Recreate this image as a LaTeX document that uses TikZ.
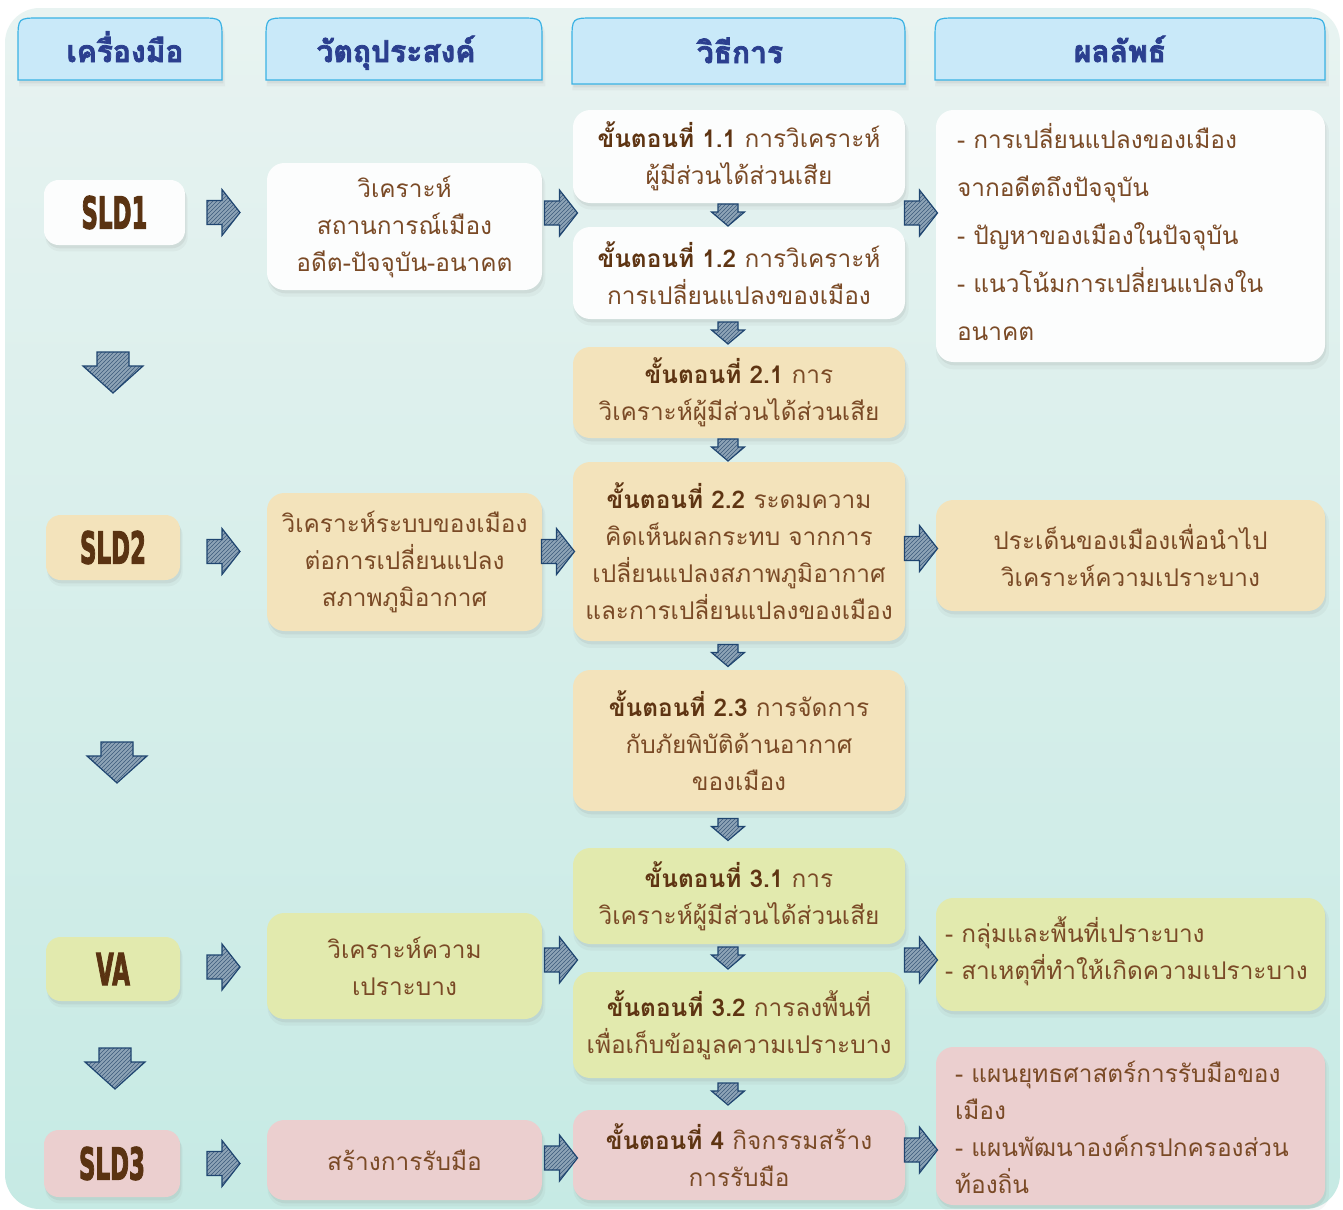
\documentclass[tikz,border=0pt]{standalone}
\usepackage{fontspec}
\usepackage{graphicx}
\setmainfont{Loma}[Script=Thai]
\newfontfamily\hdrfont{Loma}[Script=Thai, BoldFeatures={FakeBold=2.5}]
\newfontfamily\sldfont{DejaVu Sans}[BoldFeatures={FakeBold=3}]
\usetikzlibrary{shadows,patterns,calc}
\definecolor{txt}{HTML}{7A4A26}
\definecolor{txtb}{HTML}{5E3412}
\definecolor{sldc}{HTML}{5A3312}
\definecolor{hdrfill}{HTML}{C9E9F9}
\definecolor{hdrline}{HTML}{3AB2E4}
\definecolor{hdrtxt}{HTML}{2B3F8F}
\definecolor{cwhite}{HTML}{FCFDFD}
\definecolor{ccream}{HTML}{F3E3BB}
\definecolor{cgreen}{HTML}{E2EAAE}
\definecolor{cpink}{HTML}{EBCFCF}
\definecolor{bgtop}{HTML}{E8F3F1}
\definecolor{bgbot}{HTML}{C6EAE4}
\definecolor{arrfill}{HTML}{8DA3B6}
\definecolor{arrhatch}{HTML}{3C5B7C}
\definecolor{arrline}{HTML}{1F4570}
\newcommand\stp[1]{{\bfseries\color{txtb}ขั้นตอนที่ #1}}
\newcommand\sld[1]{\scalebox{0.52}[1]{\sldfont\bfseries #1}}
% block arrows drawn around a named coordinate
\newcommand\rightblock[1]{\path[arrst, shift={(#1)}] (-16,-12) -- (-1,-12) -- (-1,-23) -- (17,0) -- (-1,23) -- (-1,12) -- (-16,12) -- cycle;}
\newcommand\bigdown[1]{\path[arrst, shift={(#1)}] (-16,-20) -- (16,-20) -- (16,-6) -- (30,-6) -- (0,21) -- (-30,-6) -- (-16,-6) -- cycle;}
\newcommand\smalldown[1]{\path[arrst, shift={(#1)}] (-10,-11) -- (10,-11) -- (10,-3) -- (16.5,-3) -- (0,11) -- (-16.5,-3) -- (-10,-3) -- cycle;}
\begin{document}
\begin{tikzpicture}[x=0.75pt,y=-0.75pt,
  px/.style 2 args={minimum width=#1*0.75pt, minimum height=#2*0.75pt},
  softshadow/.style={drop shadow={opacity=0.07, shadow xshift=1.5pt, shadow yshift=-4.5pt, shadow scale=1.01},
    drop shadow={opacity=0.12, shadow xshift=1pt, shadow yshift=-2.5pt}},
  box/.style={rounded corners=13pt, draw=none, inner sep=0pt, align=center,
    font=\fontsize{18.3}{27.75}\selectfont, text=txt, softshadow},
  ltext/.style={inner sep=0pt, anchor=west, align=left, text=txt, font=\fontsize{18.3}{27.75}\selectfont},
  toolbox/.style={box, rounded corners=11pt, font=\fontsize{33}{36}\selectfont, text=sldc},
  hdrbox/.style={fill=hdrfill, draw=hdrline, line width=0.9pt, softshadow},
  hdr/.style={inner sep=0pt, anchor=base, font=\fontsize{22.5}{24}\hdrfont\bfseries, text=hdrtxt},
  arrst/.style={draw=arrline, line width=0.9pt, line join=miter, preaction={fill=arrfill},
    pattern=north east lines, pattern color=arrhatch}
]
\useasboundingbox (0,0) rectangle (1343,1210);
\fill[white] (0,0) rectangle (1343,1210);
\shade[top color=bgtop, bottom color=bgbot, rounded corners=26pt] (5,8) rectangle (1340,1209);

% headers
\path[hdrbox] (18,80) -- (18,40) .. controls (18,18) .. (40,18) -- (200,18) .. controls (222,18) .. (222,40) -- (222,80) -- cycle;
\path[hdrbox] (266,80) -- (266,40) .. controls (266,18) .. (288,18) -- (520,18) .. controls (542,18) .. (542,40) -- (542,80) -- cycle;
\path[hdrbox] (572,84) -- (572,40) .. controls (572,18) .. (594,18) -- (883,18) .. controls (905,18) .. (905,40) -- (905,84) -- cycle;
\path[hdrbox] (935,80) -- (935,40) .. controls (935,18) .. (957,18) -- (1303,18) .. controls (1325,18) .. (1325,40) -- (1325,80) -- cycle;
\node[hdr] (h1) at (125,62) {เครื่องมือ};
\node[hdr] (h2) at (396,62) {วัตถุประสงค์};
\node[hdr] (h3) at (740,63) {วิธีการ};
\node[hdr] (h4) at (1120,62) {ผลลัพธ์};

% tools
\node[toolbox, fill=cwhite, px={141}{65}] (sld1) at (114.5,212.5) {\sld{SLD1}};
\node[toolbox, fill=ccream, px={134}{65}] (sld2) at (113,547.5) {\sld{SLD2}};
\node[toolbox, fill=cgreen, px={134}{64}] (va) at (113,969) {\sld{VA}};
\node[toolbox, fill=cpink, px={136}{67}] (sld3) at (112,1163.5) {\sld{SLD3}};

% objectives
\node[box, fill=cwhite, px={275}{127}] (obj1) at (404.5,226.5) {วิเคราะห์\\สถานการณ์เมือง\\อดีต-ปัจจุบัน-อนาคต};
\node[box, fill=ccream, px={275}{138}] (obj2) at (404.5,562) {วิเคราะห์ระบบของเมือง\\ต่อการเปลี่ยนแปลง\\สภาพภูมิอากาศ};
\node[box, fill=cgreen, px={275}{106}] (obj3) at (404.5,966) {วิเคราะห์ความ\\เปราะบาง};
\node[box, fill=cpink, px={275}{80}] (obj4) at (404.5,1160) {สร้างการรับมือ};

% methods
\node[box, fill=cwhite, px={332}{93}] (m11) at (739,156.5) {\stp{1.1} การวิเคราะห์\\ผู้มีส่วนได้ส่วนเสีย};
\node[box, fill=cwhite, px={332}{92}] (m12) at (739,273) {\stp{1.2} การวิเคราะห์\\การเปลี่ยนแปลงของเมือง};
\node[box, fill=ccream, px={332}{91}] (m21) at (739,392.5) {\stp{2.1} การ\\วิเคราะห์ผู้มีส่วนได้ส่วนเสีย};
\node[box, fill=ccream, px={332}{179}] (m22) at (739,551.5) {\stp{2.2} ระดมความ\\คิดเห็นผลกระทบ จากการ\\เปลี่ยนแปลงสภาพภูมิอากาศ\\และการเปลี่ยนแปลงของเมือง};
\node[box, fill=ccream, px={332}{141}] (m23) at (739,740.5) {\stp{2.3} การจัดการ\\กับภัยพิบัติด้านอากาศ\\ของเมือง};
\node[box, fill=cgreen, px={332}{96}] (m31) at (739,896) {\stp{3.1} การ\\วิเคราะห์ผู้มีส่วนได้ส่วนเสีย};
\node[box, fill=cgreen, px={332}{106}] (m32) at (739,1025) {\stp{3.2} การลงพื้นที่\\เพื่อเก็บข้อมูลความเปราะบาง};
\node[box, fill=cpink, px={332}{90}] (m4) at (739,1155) {\stp{4} กิจกรรมสร้าง\\การรับมือ};

% results
\node[box, fill=cwhite, px={389}{252}] (r1) at (1130.5,236) {};
\node[ltext, font=\fontsize{18.3}{36}\selectfont] (r1t) at ($(r1.west)+(21,-4)$)
  {- การเปลี่ยนแปลงของเมือง\\จากอดีตถึงปัจจุบัน\\- ปัญหาของเมืองในปัจจุบัน\\- แนวโน้มการเปลี่ยนแปลงใน\\อนาคต};
\node[box, fill=ccream, px={389}{111}] (r2) at (1130.5,555.5) {ประเด็นของเมืองเพื่อนำไป\\วิเคราะห์ความเปราะบาง};
\node[box, fill=cgreen, px={389}{113}] (r3) at (1130.5,954.5) {};
\node[ltext] (r3t) at ($(r3.west)+(9,-3)$) {- กลุ่มและพื้นที่เปราะบาง\\- สาเหตุที่ทำให้เกิดความเปราะบาง};
\node[box, fill=cpink, px={389}{158}] (r4) at (1130.5,1126) {};
\node[ltext] (r4t) at ($(r4.west)+(19,1)$) {- แผนยุทธศาสตร์การรับมือของ\\เมือง\\- แผนพัฒนาองค์กรปกครองส่วน\\ท้องถิ่น};

% junction coordinates
\coordinate (j1) at ($(m11.south)!0.5!(m12.north)$);
\coordinate (j2) at ($(m12.south)!0.5!(m21.north)$);
\coordinate (j3) at ($(m21.south)!0.5!(m22.north)$);
\coordinate (j4) at ($(m22.south)!0.5!(m23.north)$);
\coordinate (j5) at ($(m23.south)!0.5!(m31.north)$);
\coordinate (j6) at ($(m31.south)!0.5!(m32.north)$);
\coordinate (j7) at ($(m32.south)!0.5!(m4.north)$);
\coordinate (c12) at ($(sld1.east)!0.5!(obj1.west)$);
\coordinate (c23) at ($(obj1.east)!0.5!(m11.west)$);
\coordinate (c34) at ($(m11.east)!0.5!(r1.west)$);

% col1 -> col2 arrows
\coordinate (a11) at ($(c12 |- sld1.east)+(-3,0)$);
\coordinate (a12) at ($(c12 |- sld2.east)+(-3,4)$);
\coordinate (a13) at ($(c12 |- va.east)+(-3,-2)$);
\coordinate (a14) at ($(c12 |- sld3.east)+(-3,0)$);
% col2 -> col3 arrows
\coordinate (a21) at ($(c23 |- j1)+(3,-2)$);
\coordinate (a22) at (c23 |- m22.west);
\coordinate (a23) at ($(c23 |- j6)+(3,2)$);
\coordinate (a24) at ($(c23 |- m4.west)+(3,3)$);
% col3 -> col4 arrows
\coordinate (a31) at ($(c34 |- j1)+(0,-2)$);
\coordinate (a32) at ($(c34 |- m22.east)+(0,-3)$);
\coordinate (a33) at ($(c34 |- j6)+(0,2)$);
\coordinate (a34) at ($(c34 |- m4.east)+(0,-5)$);
\foreach \a in {a11,a12,a13,a14,a21,a22,a23,a24,a31,a32,a33,a34}{\rightblock{\a}}
% method down arrows
\foreach \j in {j1,j2,j3,j4,j5,j6,j7}{
  \coordinate (s\j) at ($(\j)+(-11,0)$);
  \smalldown{s\j}
}
% tool column down arrows
\coordinate (d1) at (113,372);
\coordinate (d2) at (117,762);
\coordinate (d3) at (115,1068);
\bigdown{d1}\bigdown{d2}\bigdown{d3}
\end{tikzpicture}
\end{document}
